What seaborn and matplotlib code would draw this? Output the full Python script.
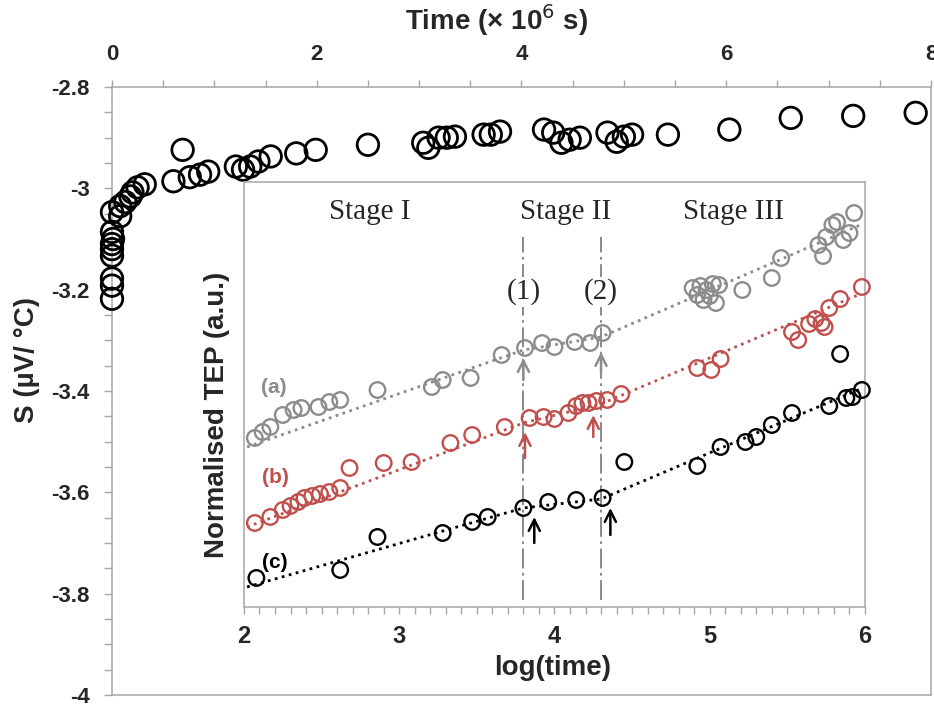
import matplotlib
matplotlib.use("Agg")
import matplotlib.pyplot as plt
from matplotlib.ticker import MultipleLocator, FormatStrFormatter
import seaborn as sns

# main curve: S vs time (x 10^6 s)
time_main = [0.00, 0.00, 0.00, 0.00, 0.00, 0.00, 0.01, 0.00, 0.00, 0.08, 0.08,
             0.13, 0.18, 0.20, 0.25, 0.32, 0.60, 0.69, 0.76, 0.86, 0.94, 1.21,
             1.28, 1.35, 1.43, 1.55, 1.80, 1.99, 2.50, 3.04, 3.09, 3.19, 3.27,
             3.35, 3.63, 3.70, 3.79, 4.22, 4.31, 4.39, 4.47, 4.57, 4.84, 4.93,
             5.00, 5.08, 5.43, 6.03, 6.63, 7.24, 7.85]
s_main = [-3.218, -3.192, -3.178, -3.133, -3.120, -3.110, -3.100, -3.086, -3.047,
          -3.055, -3.035, -3.027, -3.016, -3.008, -2.998, -2.992, -2.986, -2.924,
          -2.978, -2.973, -2.967, -2.957, -2.963, -2.957, -2.947, -2.937, -2.931,
          -2.924, -2.914, -2.910, -2.920, -2.900, -2.900, -2.898, -2.894, -2.894,
          -2.888, -2.884, -2.890, -2.910, -2.904, -2.900, -2.890, -2.908, -2.898,
          -2.894, -2.894, -2.884, -2.861, -2.857, -2.851]

# inset: normalised TEP vs log(time)
logt_a = [2.07, 2.12, 2.17, 2.25, 2.32, 2.37, 2.48, 2.55, 2.62, 2.86, 3.21, 3.28,
          3.46, 3.66, 3.81, 3.92, 4.00, 4.13, 4.23, 4.31, 4.89, 4.92, 4.94, 4.96,
          4.98, 5.00, 5.02, 5.04, 5.06, 5.21, 5.40, 5.46, 5.70, 5.73, 5.75, 5.79,
          5.82, 5.86, 5.90, 5.93]
tep_a = [1.69, 1.75, 1.80, 1.92, 1.97, 1.99, 2.00, 2.05, 2.07, 2.17, 2.20, 2.27,
         2.29, 2.52, 2.59, 2.64, 2.60, 2.65, 2.64, 2.74, 3.19, 3.12, 3.21, 3.07,
         3.17, 3.11, 3.23, 3.04, 3.22, 3.17, 3.29, 3.49, 3.62, 3.51, 3.70, 3.82,
         3.85, 3.67, 3.74, 3.94]

logt_b = [2.07, 2.17, 2.25, 2.30, 2.35, 2.39, 2.44, 2.49, 2.55, 2.62, 2.68, 2.90,
          3.08, 3.33, 3.47, 3.68, 3.84, 3.93, 4.00, 4.09, 4.14, 4.18, 4.22, 4.27,
          4.34, 4.43, 4.92, 5.01, 5.07, 5.53, 5.57, 5.64, 5.68, 5.72, 5.74, 5.77,
          5.84, 5.98]
tep_b = [0.84, 0.90, 0.97, 1.01, 1.05, 1.09, 1.11, 1.13, 1.15, 1.19, 1.39, 1.44,
         1.45, 1.64, 1.72, 1.80, 1.89, 1.90, 1.88, 1.94, 2.01, 2.04, 2.04, 2.06,
         2.07, 2.13, 2.39, 2.37, 2.48, 2.75, 2.67, 2.83, 2.88, 2.84, 2.80, 2.99,
         3.08, 3.20]

logt_c = [2.08, 2.62, 2.86, 3.28, 3.47, 3.57, 3.80, 3.96, 4.14, 4.31, 4.45, 4.92,
          5.07, 5.23, 5.30, 5.40, 5.53, 5.77, 5.84, 5.88, 5.92, 5.98]
tep_c = [0.29, 0.37, 0.70, 0.74, 0.85, 0.90, 0.99, 1.05, 1.07, 1.09, 1.45, 1.41,
         1.60, 1.65, 1.70, 1.82, 1.94, 2.01, 2.53, 2.09, 2.10, 2.17]

# piecewise fits (stage I / II / III)
fit_x = [2.02, 3.80, 4.30, 5.97]
fit_a = [1.60, 2.57, 2.70, 3.82]
fit_b = [0.80, 1.84, 2.03, 3.13]
fit_c = [0.20, 0.99, 1.08, 2.18]

stage_names = ["Stage I", "Stage II", "Stage III"]
stage_x = [2.81, 4.07, 5.15]
marks = ["(1)", "(2)"]
mark_x = [3.80, 4.30]

# arrows: x, tail, head
arrows_a = [(3.80, 2.27, 2.49), (4.30, 2.34, 2.55)]
arrows_b = [(3.81, 1.49, 1.75), (4.25, 1.70, 1.92)]
arrows_c = [(3.87, 0.64, 0.90), (4.36, 0.72, 0.99)]

gray = "#8c8c8c"
red = "#c0504d"
spine_c = "#a6a6a6"

sns.set_style("white")
plt.rcParams["font.family"] = ["Liberation Sans", "DejaVu Sans"]
plt.rcParams["axes.unicode_minus"] = False

fig = plt.figure(figsize=(9.34, 7.08), dpi=100)
ax = fig.add_axes([0.1199, 0.0184, 0.8769, 0.8587])

sns.scatterplot(x=time_main, y=s_main, ax=ax, s=240, facecolor="none",
                edgecolor="black", linewidth=2.0, zorder=3, clip_on=False)
ax.set_xlim(0, 8)
ax.set_ylim(-4, -2.8)
ax.xaxis.tick_top()
ax.xaxis.set_label_position("top")
ax.xaxis.set_major_locator(MultipleLocator(2))
ax.xaxis.set_minor_locator(MultipleLocator(0.5))
ax.yaxis.set_major_locator(MultipleLocator(0.2))
ax.yaxis.set_minor_locator(MultipleLocator(0.05))
ax.yaxis.set_major_formatter(FormatStrFormatter("%g"))
ax.tick_params(axis="x", which="both", top=True, bottom=False, direction="out",
               length=5, width=1, color=spine_c, pad=11, labelsize=16)
ax.tick_params(axis="y", which="both", left=True, direction="out",
               length=6, width=1, color=spine_c, pad=10, labelsize=16)
for lab in ax.get_xticklabels() + ax.get_yticklabels():
    lab.set_fontweight("bold")
for sp in ax.spines.values():
    sp.set_color(spine_c)
    sp.set_linewidth(1.1)
ax.set_xlabel("Time (× 10$^{6}$ s)", fontsize=20, fontweight="bold", va="center")
ax.xaxis.set_label_coords(0.469, 1.110)
ax.set_ylabel("S (µV/ °C)", fontsize=20, fontweight="bold", va="center")
ax.yaxis.set_label_coords(-0.104, 0.551)

# inset
ins = fig.add_axes([0.2612, 0.1427, 0.6649, 0.6002])
ins.set_facecolor("white")
ins.set_zorder(5)
for x, y, c in [(logt_a, tep_a, gray), (logt_b, tep_b, red), (logt_c, tep_c, "black")]:
    sns.scatterplot(x=x, y=y, ax=ins, s=125, facecolor="none", edgecolor=c,
                    linewidth=1.7, zorder=3, clip_on=False)
for y, c in [(fit_a, gray), (fit_b, red), (fit_c, "black")]:
    sns.lineplot(x=fit_x, y=y, ax=ins, color=c, linestyle=(0, (1, 1.6)),
                 linewidth=2.0, sort=False, estimator=None, zorder=2)

for xv in mark_x:
    ins.plot([xv, xv], [0.07, 3.70], color="#808080", linewidth=1.3,
             dashes=(11, 2.5, 1.5, 2.5), zorder=1)

for name, xv in zip(stage_names, stage_x):
    ins.text(xv, 3.95, name, family="Liberation Serif", fontsize=21,
             ha="center", va="center")
for m, xv in zip(marks, mark_x):
    ins.text(xv, 3.15, m, family="Liberation Serif", fontsize=21, ha="center",
             va="center", bbox=dict(facecolor="white", edgecolor="none", pad=1),
             zorder=4)

for arr, c in [(arrows_a, gray), (arrows_b, red), (arrows_c, "black")]:
    for xv, tail, head in arr:
        ins.annotate("", xy=(xv, head), xytext=(xv, tail),
                     arrowprops=dict(arrowstyle="->", color=c, lw=1.8,
                                     mutation_scale=20, shrinkA=0, shrinkB=0),
                     zorder=5)

ins.text(2.19, 2.19, "(a)", color=gray, fontsize=15, fontweight="bold",
         ha="center", va="center")
ins.text(2.20, 1.29, "(b)", color=red, fontsize=15, fontweight="bold",
         ha="center", va="center")
ins.text(2.20, 0.44, "(c)", color="black", fontsize=15, fontweight="bold",
         ha="center", va="center")

ins.set_xlim(2, 6)
ins.set_ylim(0, 4.25)
ins.xaxis.set_major_locator(MultipleLocator(1))
ins.xaxis.set_minor_locator(MultipleLocator(0.1))
ins.set_yticks([])
ins.tick_params(axis="x", which="both", bottom=True, direction="out", length=5,
                width=1, color=spine_c, pad=8, labelsize=17)
for lab in ins.get_xticklabels():
    lab.set_fontweight("bold")
for sp in ins.spines.values():
    sp.set_color(spine_c)
    sp.set_linewidth(1.1)
ins.set_xlabel("log(time)", fontsize=20, fontweight="bold", va="center")
ins.xaxis.set_label_coords(0.4976, -0.1435)
ins.set_ylabel("Normalised TEP (a.u.)", fontsize=20, fontweight="bold", va="center")
ins.yaxis.set_label_coords(-0.0435, 0.452)

fig.savefig("out.png", dpi=100)
